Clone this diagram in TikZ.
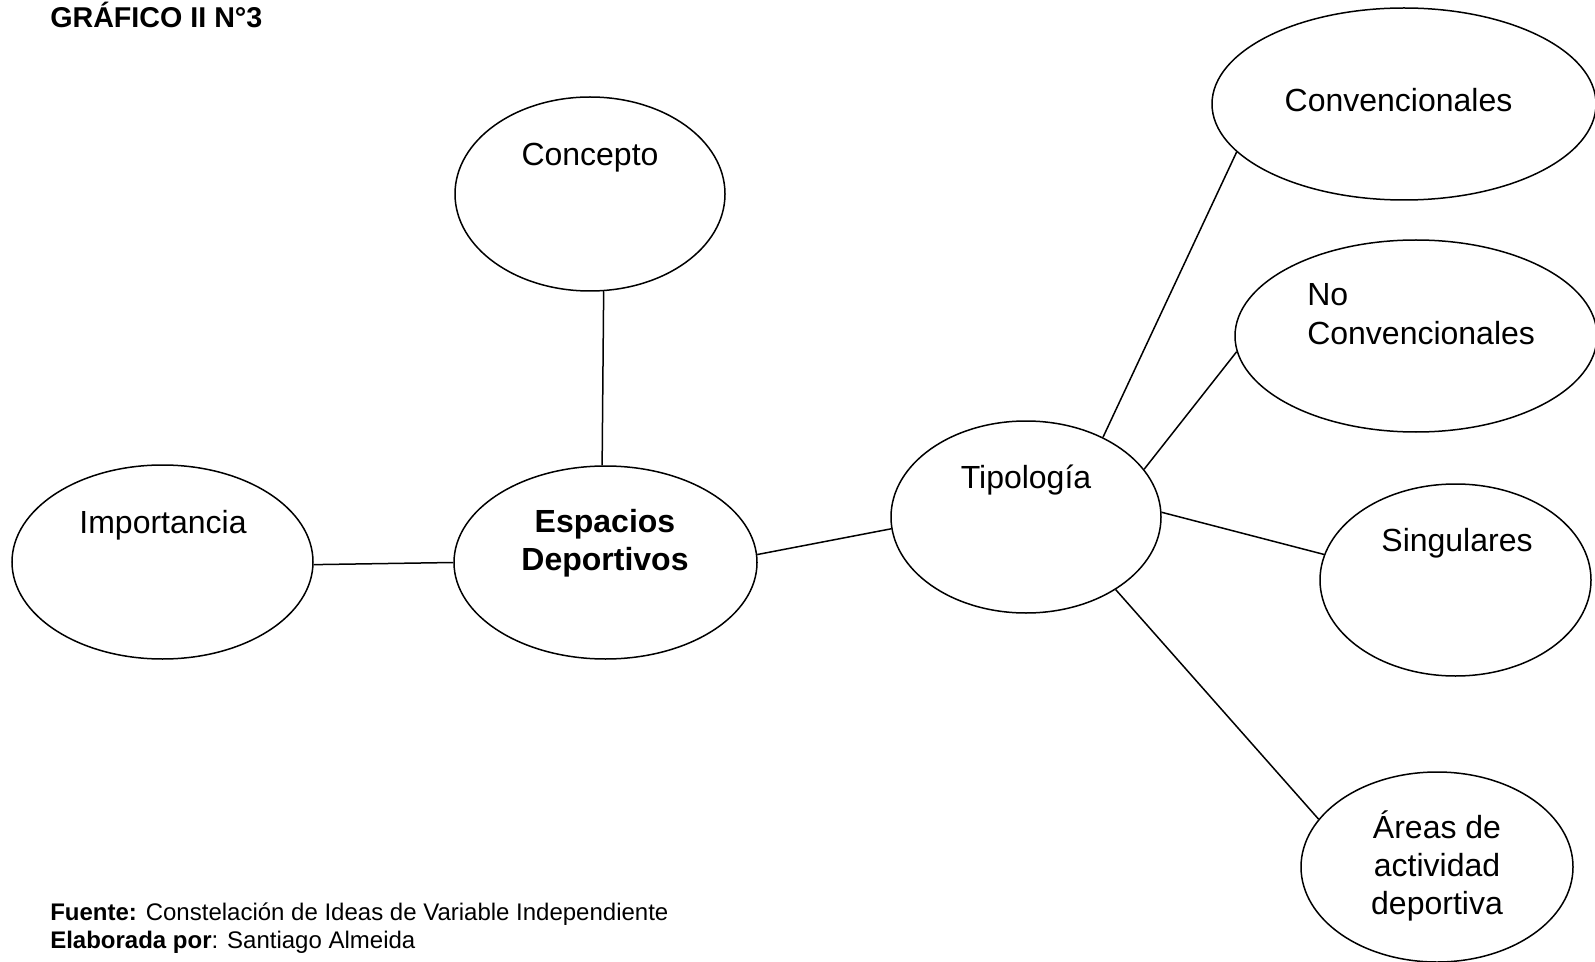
\documentclass[tikz,border=0pt]{standalone}
\usepackage{fontspec}
\setmainfont{Liberation Sans}
\usetikzlibrary{shapes.geometric}
\begin{document}
\begin{tikzpicture}[x=0.75pt,y=-0.75pt,
  ell/.style={draw, ellipse, line width=1.125pt, inner sep=0pt},
  lbl/.style={font=\fontsize{24}{28.2}\selectfont, inner sep=0pt, anchor=base, align=center},
  con/.style={line width=1.125pt},
  foot/.style={font=\fontsize{18}{21}\selectfont, inner sep=0pt, anchor=base west}]
\useasboundingbox (0,0) rectangle (1595,962);
% ellipses
\node[ell, minimum width=202.5pt, minimum height=145.5pt] (conc) at (590,194) {};
\node[ell, minimum width=288pt,   minimum height=144pt]   (conv) at (1404,104) {};
\node[ell, minimum width=271.5pt, minimum height=144pt]   (nocv) at (1416,336) {};
\node[ell, minimum width=227.25pt,minimum height=144.75pt](esp)  at (605.5,562.5) {};
\node[ell, minimum width=225.75pt,minimum height=145.5pt] (imp)  at (162.5,562) {};
\node[ell, minimum width=202.5pt, minimum height=144pt]   (tip)  at (1026,517) {};
\node[ell, minimum width=203.25pt,minimum height=144pt]   (sing) at (1455.5,580) {};
\node[ell, minimum width=204pt,   minimum height=142.5pt] (area) at (1437,867) {};
% labels (multi-line labels are placed by the baseline of their last line)
\node[lbl] (tconc) at (590,166) {Concepto};
\node[lbl] (tconv) at (1398.5,112) {Convencionales};
\node[lbl, font=\fontsize{24}{29.5}\selectfont, anchor=base west, align=left] (tnocv) at (1307,345) {No\\Convencionales};
\node[lbl, font=\fontsize{24}{28.5}\selectfont\bfseries] (tesp) at (605,570) {Espacios\\Deportivos};
\node[lbl] (timp) at (163,533) {Importancia};
\node[lbl] (ttip) at (1026,488) {Tipología};
\node[lbl] (tsing) at (1457,551) {Singulares};
\node[lbl] (tarea) at (1437,914) {Áreas de\\actividad\\deportiva};
% connectors
\draw[con] (conc.278.8) -- (esp.92.7);
\draw[con] (imp.-1.5) -- (esp.180);
\draw[con] (esp.3.6) -- (tip.185.1);
\draw[con] (tip.46.4) -- (conv.196.1);
\draw[con] (tip.22.6) -- (nocv.185.5);
\draw[con] (tip.2.1) -- (sing.169);
\draw[con] (tip.321.5) -- (area.158);
% title and footer
\node[inner sep=0pt, anchor=base west, font=\fontsize{21.5}{25}\selectfont\bfseries] (title) at (50,28) {GRÁFICO II N°3};
\node[foot] (fuente) at (50,920) {\textbf{Fuente:} Constelación de Ideas de Variable Independiente};
\node[foot] (elab) at (50,948) {\textbf{Elaborada por}: Santiago Almeida};
\end{tikzpicture}
\end{document}
